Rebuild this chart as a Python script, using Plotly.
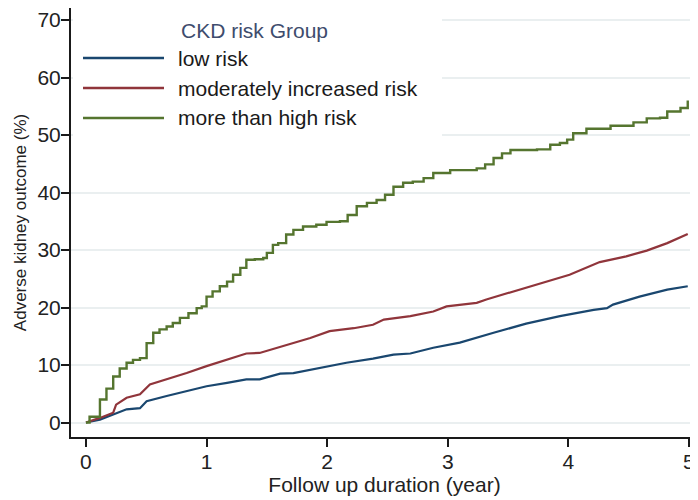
import plotly.graph_objects as go

# ---- data ----
low_t = [0, 0.116, 0.226, 0.337, 0.448, 0.503, 0.669, 0.835, 1.0, 1.17, 1.33, 1.44, 1.61, 1.72,
         1.94, 2.16, 2.38, 2.55, 2.69, 2.88, 3.10, 3.27, 3.38, 3.65, 3.93, 4.21, 4.32, 4.37,
         4.59, 4.82, 4.99]
low_v = [0, 0.5, 1.4, 2.3, 2.5, 3.7, 4.6, 5.4, 6.3, 6.9, 7.5, 7.5, 8.5, 8.6,
         9.5, 10.4, 11.1, 11.8, 12.0, 13.0, 13.9, 15.0, 15.6, 17.2, 18.5, 19.6, 19.9, 20.5,
         21.9, 23.1, 23.7]

mod_t = [0, 0.116, 0.226, 0.25, 0.337, 0.448, 0.53, 0.669, 0.835, 1.0, 1.17, 1.33, 1.44, 1.61,
         1.86, 2.02, 2.22, 2.38, 2.47, 2.69, 2.88, 2.99, 3.10, 3.24, 3.32, 3.54, 3.79, 4.01,
         4.26, 4.48, 4.65, 4.82, 4.99]
mod_v = [0, 0.8, 1.7, 3.1, 4.3, 4.9, 6.6, 7.5, 8.6, 9.8, 10.9, 12.0, 12.1, 13.2,
         14.7, 15.9, 16.4, 17.0, 17.9, 18.5, 19.3, 20.2, 20.5, 20.8, 21.4, 22.8, 24.3, 25.7,
         27.9, 28.9, 29.9, 31.2, 32.8]

high_t = [0, 0.03, 0.116, 0.17, 0.226, 0.28, 0.337, 0.39, 0.448, 0.503, 0.558, 0.61, 0.669,
          0.72, 0.779, 0.85, 0.918, 0.96, 1.0, 1.05, 1.11, 1.17, 1.22, 1.28, 1.33, 1.40, 1.47,
          1.50, 1.55, 1.594, 1.66, 1.72, 1.80, 1.91, 1.995, 2.106, 2.17, 2.245, 2.33, 2.41,
          2.48, 2.55, 2.63, 2.71, 2.80, 2.88, 3.02, 3.24, 3.31, 3.38, 3.45, 3.52, 3.74, 3.85,
          3.93, 3.99, 4.04, 4.15, 4.35, 4.54, 4.65, 4.76, 4.82, 4.93, 4.99]
high_v = [0, 1.0, 4.0, 5.9, 8.0, 9.4, 10.4, 10.9, 11.2, 13.8, 15.6, 16.2, 16.7,
          17.3, 18.2, 19.0, 19.9, 20.2, 21.9, 22.8, 23.7, 24.5, 25.7, 26.9, 28.3, 28.4, 28.6,
          29.5, 30.9, 31.2, 32.7, 33.5, 34.1, 34.4, 34.9, 35.0, 36.1, 37.6, 38.2, 38.7,
          39.6, 41.0, 41.7, 41.9, 42.5, 43.4, 43.9, 44.2, 44.9, 46.0, 46.8, 47.4, 47.5, 48.3,
          48.6, 49.2, 50.3, 51.1, 51.6, 52.2, 52.9, 53.0, 54.1, 54.7, 56.0]

series_names = ["low risk", "moderately increased risk", "more than high risk"]
series_colors = ["#1a476f", "#90353b", "#55752f"]
legend_title = "CKD risk Group"
x_ticks = [0, 1, 2, 3, 4, 5]
y_ticks = [0, 10, 20, 30, 40, 50, 60, 70]
x_title = "Follow up duration (year)"
y_title = "Adverse kidney outcome (%)"

FONT = "Liberation Sans, Arial, sans-serif"

fig = go.Figure()
fig.add_trace(go.Scatter(x=low_t, y=low_v, mode="lines", name=series_names[0],
                         line=dict(color=series_colors[0], width=2.2)))
fig.add_trace(go.Scatter(x=mod_t, y=mod_v, mode="lines", name=series_names[1],
                         line=dict(color=series_colors[1], width=2.2)))
fig.add_trace(go.Scatter(x=high_t, y=high_v, mode="lines", name=series_names[2],
                         line=dict(color=series_colors[2], width=2.4, shape="hv")))

# the page body adds an 8px offset; the figure is sized to fit the 698x500 window
OFF = 8
W, H = 698 - OFF, 500 - OFF
# plot area in window pixels: x 71..698, y 8..437
L = 71 - OFF
R = 0
T = 0
B = H - (437 - OFF)
PW, PH = W - L - R, H - T - B


def px(xw):
    return (xw - OFF - L) / PW


def py(yw):
    return (H - B - (yw - OFF)) / PH


shapes = [dict(type="rect", xref="paper", yref="paper", x0=px(73), x1=px(442),
               y0=py(142), y1=1.0, fillcolor="white", line=dict(width=0), layer="above")]
annotations = [dict(xref="paper", yref="paper", x=px(179), y=py(31), text=legend_title,
                    showarrow=False, xanchor="left", yanchor="middle",
                    font=dict(family=FONT, size=21, color="#3e4c6d"))]
for i, (nm, col) in enumerate(zip(series_names, series_colors)):
    yc = 58 + 30 * i
    shapes.append(dict(type="line", xref="paper", yref="paper", x0=px(83), x1=px(164),
                       y0=py(yc), y1=py(yc), line=dict(color=col, width=2.5), layer="above"))
    annotations.append(dict(xref="paper", yref="paper", x=px(176), y=py(yc), text=nm,
                            showarrow=False, xanchor="left", yanchor="middle",
                            font=dict(family=FONT, size=21, color="#1a1a1a")))

fig.update_layout(
    width=W, height=H,
    margin=dict(l=L, r=R, t=T, b=B, pad=0, autoexpand=False),
    paper_bgcolor="white", plot_bgcolor="white",
    showlegend=False,
    font=dict(family=FONT, color="#222222"),
    shapes=shapes, annotations=annotations,
)
fig.update_xaxes(range=[-0.124, 5.075], tickvals=x_ticks, ticks="outside", ticklen=8,
                 tickwidth=2, tickcolor="#1a1a1a", showline=True, linecolor="#1a1a1a",
                 linewidth=2, showgrid=False, zeroline=False, automargin=False,
                 ticklabelstandoff=-3,
                 tickfont=dict(size=21, family=FONT, color="#222222"),
                 title=dict(text=x_title, font=dict(size=21, family=FONT, color="#222222"),
                            standoff=0))
fig.update_yaxes(range=[-2.52, 72.09], tickvals=y_ticks, ticks="outside", ticklen=8,
                 tickwidth=2, tickcolor="#1a1a1a", showline=True, linecolor="#1a1a1a",
                 linewidth=2, showgrid=True, gridcolor="#eaeff0", gridwidth=1.5,
                 zeroline=False, automargin=False, ticklabelstandoff=-4,
                 tickfont=dict(size=21, family=FONT, color="#222222"),
                 title=dict(text=y_title, font=dict(size=17, family=FONT, color="#222222"),
                            standoff=6))

fig.write_html("out.html")
